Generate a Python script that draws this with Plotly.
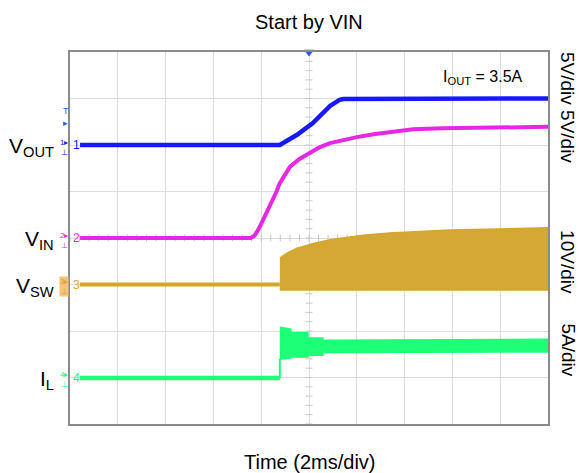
import numpy as np
import plotly.graph_objects as go

# all values in scope divisions: time 0..10 (2 ms/div), vertical 0..8
FONT = "Arial, Liberation Sans, sans-serif"

trigger_time = 5.0
trigger_level = 6.6

# channel 1: VOUT (5 V/div)
vout_t = [0.21, 4.39, 4.75, 5.08, 5.44, 5.55, 5.64, 5.72, 10.0]
vout_v = [6.0, 6.0, 6.22, 6.47, 6.84, 6.92, 6.97, 6.99, 7.0]

# channel 2: VIN (5 V/div)
vin_t = [0.21, 3.78, 3.86, 3.94, 4.04, 4.15, 4.25, 4.32, 4.39, 4.50, 4.60, 4.80,
         5.02, 5.22, 5.44, 5.70, 6.0, 6.35, 6.69, 7.18, 7.80, 8.58, 10.0]
vin_v = [4.0, 4.0, 4.05, 4.18, 4.39, 4.62, 4.82, 5.0, 5.18, 5.38, 5.53, 5.70,
         5.83, 5.95, 6.04, 6.11, 6.17, 6.23, 6.28, 6.34, 6.36, 6.37, 6.39]

# channel 3: VSW (10 V/div) - idle line, then switching envelope
vsw_idle_t = [0.21, 4.39]
vsw_idle_v = [3.0, 3.0]
vsw_env_t = [4.39, 4.55, 4.75, 5.1, 5.44, 6.13, 6.69, 7.95, 10.0]
vsw_env_top = [3.57, 3.68, 3.78, 3.88, 3.96, 4.06, 4.11, 4.17, 4.22]
vsw_env_bot = [2.88, 2.88, 2.88, 2.88, 2.88, 2.88, 2.88, 2.88, 2.88]

# channel 4: IL (5 A/div) - idle line, then ripple envelope
il_idle_t = [0.21, 4.39]
il_idle_v = [0.99, 0.99]
il_env_t = [4.39, 4.62, 4.62, 4.98, 4.98, 5.29, 5.29, 10.0]
il_env_top = [2.08, 2.04, 1.96, 1.96, 1.85, 1.85, 1.80, 1.82]
il_env_bot = [1.40, 1.42, 1.44, 1.44, 1.48, 1.48, 1.54, 1.55]

channels = ["1", "2", "3", "4"]
ch_offsets = [6.0, 4.0, 3.0, 0.99]
ch_labels = ["V<sub>OUT</sub>", "V<sub>IN</sub>", "V<sub>SW</sub>", "I<sub>L</sub>"]
ch_colors = ["#1818FF", "#E628E6", "#D4A62A", "#1EFF78"]
scale_labels = ["5V/div 5V/div", "10V/div", "5A/div"]
scale_pos = [0.852, 0.435, 0.2]

BLUE, MAGENTA, GOLD, GREEN = ch_colors

fig = go.Figure()

# center-line minor ticks (graticule decoration)
minor_x = np.arange(0, 10.01, 0.2)
minor_y = np.arange(0, 8.01, 0.2)
fig.add_trace(go.Scatter(x=minor_x, y=[4] * len(minor_x), mode="markers",
                         marker=dict(symbol="line-ns", size=5, line=dict(color="#C8C8C8", width=1)),
                         hoverinfo="skip"))
fig.add_trace(go.Scatter(x=[5] * len(minor_y), y=minor_y, mode="markers",
                         marker=dict(symbol="line-ew", size=5, line=dict(color="#C8C8C8", width=1)),
                         hoverinfo="skip"))

# VSW
fig.add_trace(go.Scatter(x=vsw_idle_t, y=vsw_idle_v, mode="lines", line=dict(color=GOLD, width=4)))
fig.add_trace(go.Scatter(x=vsw_env_t + vsw_env_t[::-1], y=vsw_env_top + vsw_env_bot[::-1],
                         mode="lines", fill="toself", fillcolor="#D4A834",
                         line=dict(color=GOLD, width=1.5)))

# IL
fig.add_trace(go.Scatter(x=il_idle_t, y=il_idle_v, mode="lines", line=dict(color=GREEN, width=4.5)))
fig.add_trace(go.Scatter(x=[il_idle_t[-1], il_env_t[0]], y=[il_idle_v[-1], il_env_bot[0]],
                         mode="lines", line=dict(color=GREEN, width=2)))
fig.add_trace(go.Scatter(x=il_env_t + il_env_t[::-1], y=il_env_top + il_env_bot[::-1],
                         mode="lines", fill="toself", fillcolor=GREEN,
                         line=dict(color=GREEN, width=1.5)))

# VIN, VOUT
fig.add_trace(go.Scatter(x=vin_t, y=vin_v, mode="lines", line=dict(color=MAGENTA, width=4)))
fig.add_trace(go.Scatter(x=vout_t, y=vout_v, mode="lines", line=dict(color=BLUE, width=4.5)))

# trigger position marker at top
fig.add_trace(go.Scatter(x=[trigger_time], y=[8], mode="markers", cliponaxis=False,
                         marker=dict(symbol="triangle-down", size=9, color="#1E60E6")))

annotations = []
for ch, off, lab, col in zip(channels, ch_offsets, ch_labels, ch_colors):
    annotations.append(dict(x=-0.03, xref="paper", y=off, yref="y", text=lab, showarrow=False,
                            xanchor="right", yanchor="middle", yshift=-2,
                            font=dict(family=FONT, size=21, color="black")))
    annotations.append(dict(x=0.13, xref="x", y=off, yref="y", text=ch, showarrow=False,
                            xanchor="center", yanchor="middle",
                            font=dict(family=FONT, size=12, color=col)))
    icon = dict(x=-0.013, xref="paper", y=off, yref="y", text=ch + "▸<br>⊥", showarrow=False,
                xanchor="center", yanchor="middle", yshift=-2, borderpad=0,
                font=dict(family=FONT, size=8, color=col))
    if ch == "3":
        icon["bgcolor"] = "#F7C27C"
    annotations.append(icon)

# trigger level marker on left
annotations.append(dict(x=-0.009, xref="paper", y=trigger_level, yref="y", text="T<br>▸", showarrow=False,
                        xanchor="center", yanchor="middle",
                        font=dict(family=FONT, size=9, color="#1E60E6")))

for txt, yp in zip(scale_labels, scale_pos):
    annotations.append(dict(x=1.042, xref="paper", y=yp, yref="paper", text=txt, showarrow=False,
                            textangle=90, xanchor="center", yanchor="middle",
                            font=dict(family=FONT, size=19, color="black")))

annotations.append(dict(x=8.64, xref="x", y=7.46, yref="y", text="I<sub>OUT</sub> = 3.5A",
                        showarrow=False, font=dict(family=FONT, size=16, color="black")))
annotations.append(dict(x=0.5, xref="paper", y=-0.102, yref="paper", text="Time (2ms/div)",
                        showarrow=False, yanchor="middle", font=dict(family=FONT, size=20, color="black")))
annotations.append(dict(x=0.5, xref="paper", y=1.081, yref="paper", text="Start by VIN",
                        showarrow=False, yanchor="middle", font=dict(family=FONT, size=20, color="black")))

fig.update_layout(
    width=579, height=473,
    margin=dict(l=70, r=31, t=52, b=49),
    paper_bgcolor="white", plot_bgcolor="white",
    showlegend=False,
    annotations=annotations,
    xaxis=dict(range=[0, 10], dtick=1, showgrid=True, gridcolor="#DDDDDD", gridwidth=1,
               showticklabels=False, ticks="", zeroline=False,
               showline=True, mirror=True, linecolor="#8A8A8A", linewidth=2, fixedrange=True),
    yaxis=dict(range=[0, 8], dtick=1, showgrid=True, gridcolor="#DDDDDD", gridwidth=1,
               showticklabels=False, ticks="", zeroline=False,
               showline=True, mirror=True, linecolor="#8A8A8A", linewidth=2, fixedrange=True),
)

fig.write_html("out.html", config={"displayModeBar": False},
               post_script="document.body.style.margin='0';")
